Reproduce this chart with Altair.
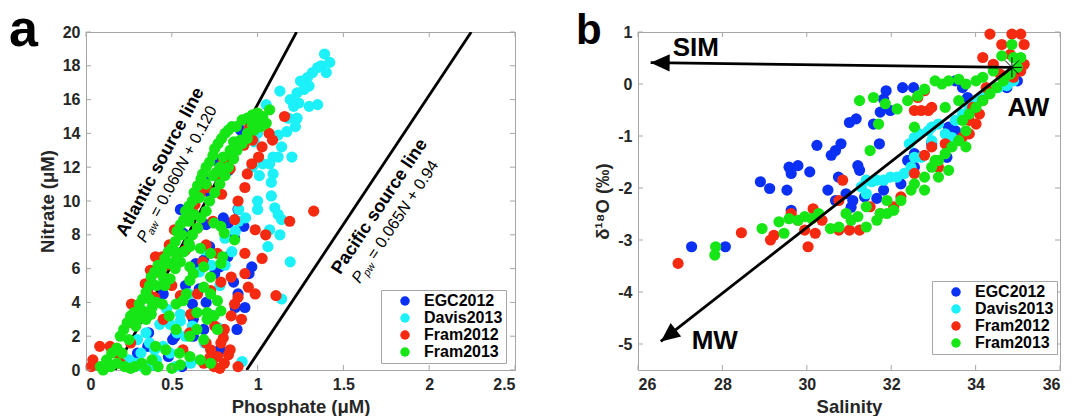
import altair as alt
import pandas as pd

FONT = "Liberation Sans"
SERIES = ["EGC2012", "Davis2013", "Fram2012", "Fram2013"]
COLORS = ["#0b30f5", "#1cf0f8", "#f52a10", "#16e616"]

# ---------------- panel a : (phosphate uM, nitrate uM) ----------------
a_egc = [(0.69,11.2),(0.72,10.5),(0.886,9.5),(0.83,8.7),(0.866,7.8),(0.826,6.7),(0.966,6.1),(0.95,5.7),
         (0.565,8.1),(0.60,7.4),(0.64,6.3),(0.686,6.5),(0.78,6.1),(0.75,5.7),(0.886,4.5),(0.87,3.7),
         (0.926,3.7),(0.62,3.9),(0.70,4.0),(0.625,3.0),(0.686,2.4),(0.505,1.8),(0.365,2.2),(0.36,1.4),
         (0.245,0.4),(0.28,0.2),(0.56,0.2),(0.625,2.0),(0.78,1.2),(0.88,2.4),(0.55,9.5),(0.66,4.8),
         (0.72,7.3),(0.48,0.8),(0.80,9.0),(0.58,5.0),(0.74,3.2),(0.30,1.0),(0.45,4.5),(0.83,11.8),
         (0.76,12.4),(0.90,14.2),(0.70,8.6),(0.52,2.0),(0.40,0.3),(0.86,5.2),(0.92,8.5)]
a_davis = [(1.39,18.7),(1.42,18.2),(1.37,18.0),(1.40,17.6),(1.35,17.9),(1.32,17.6),(1.29,17.3),(1.30,16.8),
           (1.27,16.6),(1.25,17.1),(1.23,16.4),(1.24,15.8),(1.21,15.6),(1.35,15.7),(1.30,15.6),(1.19,16.0),
           (1.13,16.5),(1.18,14.9),(1.23,14.9),(1.17,14.1),(1.22,14.4),(1.12,13.9),(1.14,13.2),(1.09,12.6),
           (1.20,12.6),(1.12,12.6),(1.07,12.2),(1.03,12.2),(1.01,11.5),(1.09,11.6),(1.08,11.1),(1.08,10.3),
           (1.00,10.0),(1.00,9.5),(1.10,9.6),(1.12,9.2),(1.14,8.9),(1.13,8.0),(1.07,8.3),(1.06,7.3),
           (1.19,6.4),(1.14,4.2),(0.91,0.5),(0.93,9.0),(0.89,8.8),(0.87,8.2),(0.81,7.8),(0.89,9.5),
           (0.85,7.0),(0.81,6.2),(0.69,7.1),(0.97,12.0),(1.05,15.7),(0.98,13.5),(1.00,14.0),
           (0.35,2.2),(0.37,1.6),(0.32,1.0),(0.43,2.7),(0.49,2.7),(0.55,2.9),(0.53,2.2),(0.58,2.0),
           (0.25,0.6),(0.29,0.4),(0.41,0.6),(0.45,1.4),(0.49,1.0),(0.61,0.4),(0.69,1.6),(0.77,2.5),
           (0.30,1.8),(0.38,0.3),(0.52,0.2),(0.62,2.6),(0.47,3.6),(0.55,3.3),(0.66,5.8),(0.73,6.2),
           (0.78,5.0),(0.60,4.5),(0.33,0.2),(0.40,1.2)]
a_fram12 = [(0.03,0.2),(0.04,0.6),(0.08,1.4),(0.14,1.4),(0.18,1.0),(0.12,0.2),(0.20,0.4),(0.245,2.8),
            (0.265,3.9),(0.30,3.2),(0.345,5.1),(0.375,5.9),(0.405,6.7),(0.445,6.7),(0.485,7.4),(0.515,8.3),
            (0.595,8.9),(0.635,9.8),(0.665,10.4),(0.625,9.3),(0.705,10.8),(0.765,11.6),(0.80,12.4),(0.86,13.0),
            (0.92,13.3),(1.067,14.0),(1.157,15.0),(1.087,13.6),(1.026,13.2),(1.006,12.6),(0.966,12.2),(0.94,11.6),
            (1.327,9.4),(1.187,8.8),(1.047,8.0),(0.986,8.3),(0.926,6.9),(1.026,6.6),(0.926,5.7),(0.946,4.9),
            (0.986,4.5),(1.107,4.4),(0.886,4.3),(0.866,3.9),(0.846,3.2),(0.906,3.0),(0.806,2.4),(0.786,1.6),
            (0.726,1.2),(0.766,0.8),(0.686,0.4),(0.806,0.4),(0.746,0.2),(0.886,0.2),(0.605,2.2),(0.565,1.2),
            (0.786,5.2),(0.726,4.7),(0.846,5.5),(0.766,6.9),(0.866,8.9),(0.926,10.8),(0.886,10.0),(0.83,0.9),
            (0.80,1.9),(0.75,2.6),(0.70,1.6),(0.72,0.7),(0.78,0.1),(0.84,1.2),(0.53,6.6),(0.50,5.0),
            (0.55,4.4),(0.40,4.3),(0.37,3.3),(0.45,3.0),(0.26,1.6),(0.65,8.4),(0.58,7.1),(0.47,6.2),
            (0.68,6.4),(0.70,7.4),(0.61,3.3),(0.65,4.5),(0.74,8.8),(0.79,10.4),(0.84,11.9),(0.97,13.6),
            (1.00,14.6),(0.95,14.3),(0.36,4.6),(0.42,5.8)]
a_fram13 = [(0.605,7.3),(0.666,7.2),(0.726,6.9),(0.786,6.3),(0.796,6.7),(0.866,7.7),(0.806,8.1),(0.786,8.5),
            (0.746,8.7),(0.626,5.7),(0.605,5.3),(0.686,4.9),(0.726,4.5),(0.766,4.1),(0.786,3.5),(0.746,3.2),
            (0.706,3.0),(0.646,3.4),(0.585,4.5),(0.565,4.1),(0.525,3.9),(0.445,3.9),(0.385,3.7),(0.485,3.2),
            (0.525,2.4),(0.605,2.0),(0.686,1.8),(0.766,2.4),(0.405,1.4),(0.465,1.2),(0.545,1.0),(0.605,0.8),
            (0.666,0.6),(0.726,0.4),(0.385,0.6),(0.325,0.4),(0.285,0.2),(0.225,0.2),(0.144,0.2),(0.084,0.2),
            (0.646,2.4),(0.706,3.4),(0.525,6.5),(0.605,6.1),(0.686,6.1),(0.726,5.5),
            (0.12,0.6),(0.15,1.0),(0.18,1.3),(0.20,2.0),(0.22,2.4),(0.24,2.8),(0.26,3.2),(0.28,3.4),
            (0.30,3.0),(0.31,3.9),(0.33,4.2),(0.35,4.6),(0.37,5.0),(0.38,5.5),(0.40,5.8),(0.42,6.2),
            (0.44,6.0),(0.46,6.6),(0.48,7.0),(0.50,7.2),(0.52,7.6),(0.53,8.2),(0.55,8.6),(0.57,8.9),
            (0.58,9.4),(0.60,9.7),(0.62,10.0),(0.63,10.5),(0.65,10.9),(0.67,11.3),(0.68,11.6),(0.70,12.0),
            (0.72,12.3),(0.74,12.7),(0.75,13.1),(0.77,13.4),(0.79,13.7),(0.81,14.0),(0.83,14.2),(0.85,14.4),
            (0.876,14.4),(0.91,14.8),(0.94,14.9),(0.97,15.1),(1.00,15.2),(1.03,15.0),(1.07,15.4),
            (0.70,11.0),(0.74,11.5),(0.78,12.0),(0.80,12.6),(0.84,13.0),(0.86,13.5),(0.90,13.6),(0.94,14.0),
            (0.98,14.2),(1.02,14.4),(1.05,14.6),(0.66,10.2),(0.63,9.2),(0.60,8.8),(0.56,8.0),(0.52,7.0),
            (0.49,6.3),(0.45,5.5),(0.41,5.0),(0.37,4.2),(0.33,3.5),(0.29,2.6),(0.25,1.8),(0.21,1.0),
            (0.18,0.4),(0.76,11.7),(0.10,0.0),(0.26,0.1),(0.35,0.0),(0.42,0.2),(0.50,0.1),(0.55,0.3),
            (0.35,3.0),(0.38,3.3),(0.41,4.0),(0.46,5.0),(0.49,5.4),(0.52,6.0),(0.55,6.4),(0.57,7.0),
            (0.60,7.5),(0.62,8.0),(0.65,8.4),(0.67,9.0),(0.70,9.4),(0.72,10.0),(0.75,10.5),(0.78,11.0),
            (0.81,11.5),(0.83,12.0),(0.86,12.5),(0.88,13.0),(0.91,13.4),(0.94,13.7),(0.97,14.5),(1.01,14.8)]

# ---------------- panel b : (salinity, d18O) ----------------
b_egc = [(27.27,-3.13),(28.07,-3.13),(28.90,-1.88),(29.12,-2.01),(29.53,-2.04),(29.58,-1.60),(29.63,-1.72),
         (29.79,-1.57),(30.07,-1.69),(30.24,-1.18),(30.50,-2.04),(30.58,-1.37),(30.68,-1.28),(30.81,-1.15),
         (30.75,-1.79),(31.01,-0.74),(31.17,-0.67),(31.21,-1.57),(31.25,-1.66),(31.58,-0.77),(31.72,-1.15),
         (31.74,-0.54),(31.82,-0.29),(31.88,-0.13),(31.98,-0.51),(32.27,-0.07),(32.53,-0.07),(29.63,-2.43),
         (30.68,-2.24),(30.93,-2.11),(31.09,-2.24),(31.37,-2.17),(31.66,-2.20),(31.82,-2.04),(32.23,-1.92),
         (32.55,-1.60),(32.55,-1.34),(32.96,-1.15),(33.32,-1.41),(33.36,-0.83),(33.52,-0.90),(33.52,0.06),
         (33.69,-0.07),(33.81,-0.26),(34.74,-0.07),(34.99,0.06),(31.05,-2.37),(32.39,-1.47)]
b_davis = [(31.29,-1.98),(31.41,-1.85),(31.54,-1.88),(31.66,-1.85),(31.82,-1.85),(31.98,-1.79),(32.14,-1.79),
           (32.31,-1.72),(32.47,-1.60),(32.55,-1.41),(32.43,-1.15),(32.55,-1.03),(32.67,-0.96),(32.88,-0.90),
           (32.96,-0.83),(33.12,-0.77),(33.28,-0.96),(33.44,-1.03),(33.52,-0.70),(33.69,-0.58),(33.85,-0.45),
           (34.01,-0.32),(34.17,-0.26),(34.34,-0.13),(34.54,-0.07),(34.74,-0.03),(34.90,0.06),(32.96,-1.09),
           (32.71,-1.41),(31.41,-2.11)]
b_fram12 = [(26.95,-3.45),(28.45,-2.86),(29.14,-3.00),(29.22,-2.91),(30.03,-3.13),(30.15,-2.40),(30.85,-1.85),
            (29.63,-2.49),(29.79,-2.62),(29.95,-2.81),(30.20,-2.87),(30.36,-2.62),(30.76,-2.81),(31.01,-2.81),
            (31.25,-2.81),(30.76,-2.24),(31.50,-2.36),(31.74,-2.49),(32.06,-2.36),(32.23,-2.17),(32.55,-1.72),
            (32.79,-1.37),(32.96,-1.21),(33.12,-1.60),(33.28,-1.15),(32.55,-0.51),(32.71,-0.51),(32.88,-0.51),
            (32.96,-0.45),(32.63,-0.26),(32.79,-0.13),(33.85,-0.96),(33.85,-0.70),(34.01,-0.77),(33.93,-0.45),
            (34.09,-0.58),(34.17,-0.32),(34.34,0.96),(34.62,0.76),(34.86,0.96),(35.07,0.96),(35.15,0.76),
            (34.17,0.51),(34.42,0.38),(35.15,0.38),(35.07,0.25),(34.82,0.57),(33.69,-1.02),(33.36,-1.21),
            (34.25,-0.07),(34.58,0.19),(34.90,0.13)]
b_fram13 = [(27.84,-3.13),(27.82,-3.29),(28.94,-2.78),(29.34,-2.65),(29.46,-2.87),(29.58,-2.59),(29.79,-2.62),
            (29.95,-2.55),(30.12,-2.59),(30.28,-2.49),(30.56,-2.78),(30.76,-2.75),(30.93,-2.49),(31.05,-2.62),
            (31.21,-2.55),(31.41,-2.75),(31.41,-2.36),(31.66,-2.62),(31.74,-2.49),(31.90,-2.49),(32.06,-2.43),
            (31.90,-2.24),(32.23,-2.24),(32.47,-2.04),(32.55,-1.92),(32.79,-2.04),(32.79,-1.79),(32.96,-1.60),
            (33.12,-1.79),(33.12,-1.47),(33.28,-1.34),(33.44,-1.21),(33.60,-1.09),(33.77,-0.90),(33.69,-0.70),
            (33.85,-0.58),(34.01,-0.45),(34.17,-0.32),(34.34,-0.19),(34.50,-0.07),(34.66,0.06),(34.82,0.19),
            (34.99,0.32),(35.07,0.51),(34.90,0.51),(34.86,0.76),(34.62,0.54),(34.42,0.25),(34.17,0.13),
            (34.01,0.06),(33.77,0.00),(33.60,0.09),(33.36,0.06),(33.20,0.00),(33.04,0.06),(32.79,-0.10),
            (32.63,-0.23),(32.39,-0.32),(32.14,-0.48),(31.86,-0.38),(31.58,-0.26),(31.25,-0.32),(31.70,-0.77),
            (31.50,-1.28),(32.55,-0.83),(33.28,-0.45),(33.60,-0.32),(33.04,-1.47),(33.36,-1.66),(33.77,-1.21)]

# axis ticks
a_xticks = [0, 0.5, 1, 1.5, 2, 2.5]
a_yticks = [0, 2, 4, 6, 8, 10, 12, 14, 16, 18, 20]
b_xticks = [26, 28, 30, 32, 34, 36]
b_yticks = [-5, -4, -3, -2, -1, 0, 1]

# source lines (panel a) and mixing arrows (panel b)
atl_p, atl_n = [0.17, 1.227], [0, 20]
pac_p, pac_n = [0.936, 2.245], [0, 20]
sim_s, sim_o = [34.86, 26.30], [0.32, 0.41]
mw_s, mw_o = [34.86, 26.54], [0.32, -4.95]
head_s, head_o, head_ang = [26.525, 26.72], [0.408, -4.84], [270.7, 232.0]
aw_s, aw_o = [34.86], [0.32]

WA, HA = 429, 338
WB, HB = 422, 338
BOX = "#a6a6a6"
INK = "#262626"
PT = 125


def frame(pairs_list, xn, yn):
    rows = []
    for s, pairs in zip(SERIES, pairs_list):
        for x, y in pairs:
            rows.append({xn: x, yn: y, "series": s})
    return pd.DataFrame(rows)


def tick_layers(xenc, yenc, xname, yname, xt, yt, W, H):
    dx = pd.DataFrame({xname: xt})
    dy = pd.DataFrame({yname: yt})
    r = dict(color=BOX, strokeWidth=1)
    return [
        alt.Chart(dx).mark_rule(**r).encode(x=xenc, y=alt.value(H), y2=alt.value(H - 5)),
        alt.Chart(dx).mark_rule(**r).encode(x=xenc, y=alt.value(0), y2=alt.value(5)),
        alt.Chart(dy).mark_rule(**r).encode(y=yenc, x=alt.value(0), x2=alt.value(5)),
        alt.Chart(dy).mark_rule(**r).encode(y=yenc, x=alt.value(W), x2=alt.value(W - 5)),
    ]


def legend(lx, ly):
    return alt.Legend(orient="none", legendX=lx, legendY=ly, title=None,
                      labelFont=FONT, labelFontSize=16, labelFontWeight="bold", labelColor="black",
                      symbolType="circle", symbolSize=90, symbolStrokeWidth=0,
                      strokeColor=BOX, fillColor="white", padding=3,
                      symbolOffset=13, labelOffset=11, rowPadding=1)


def txt(df, xenc, yenc, text, **kw):
    return alt.Chart(df).mark_text(text=text, font=FONT, color="black", **kw).encode(x=xenc, y=yenc)


# ---------------- panel a ----------------
xa = alt.X("p:Q", scale=alt.Scale(domain=[0, 2.5], nice=False, zero=False),
           axis=alt.Axis(values=a_xticks, title="Phosphate (μM)", labelExpr="datum.value + ''"))
ya = alt.Y("n:Q", scale=alt.Scale(domain=[0, 20], nice=False, zero=False),
           axis=alt.Axis(values=a_yticks, title="Nitrate (μM)", labelExpr="datum.value + ''"))

pts_a = alt.Chart(frame([a_egc, a_davis, a_fram12, a_fram13], "p", "n")).mark_point(
    filled=True, size=PT, opacity=1, strokeWidth=0).encode(
    x=xa, y=ya,
    color=alt.Color("series:N", scale=alt.Scale(domain=SERIES, range=COLORS), legend=legend(295, 258)))

lines_a = alt.Chart(pd.DataFrame({"p": atl_p + pac_p, "n": atl_n + pac_n,
                                  "line": ["atl"] * 2 + ["pac"] * 2})).mark_line(
    color="black", strokeWidth=2.8, clip=True).encode(x=xa, y=ya, detail="line:N")

ANG_A, ANG_P = 298.2, 303.6
one = lambda x, y: pd.DataFrame({"p": [x], "n": [y]})
ann_a = [
    txt(one(0.435, 12.3), xa, ya, "Atlantic source line", angle=ANG_A, fontSize=18, fontWeight="bold",
        align="center", baseline="middle"),
    txt(one(0.3205, 7.63), xa, ya, "P", angle=ANG_A, fontSize=16, fontStyle="italic", align="left", baseline="middle"),
    txt(one(0.3205, 7.63), xa, ya, "aw", angle=ANG_A, fontSize=10.5, fontStyle="italic", align="left",
        baseline="middle", dx=10.7, dy=5),
    txt(one(0.3205, 7.63), xa, ya, "= 0.060", angle=ANG_A, fontSize=16, align="left", baseline="middle", dx=28.5),
    txt(one(0.3205, 7.63), xa, ya, "N", angle=ANG_A, fontSize=16, fontStyle="italic", align="left",
        baseline="middle", dx=82.3),
    txt(one(0.3205, 7.63), xa, ya, "+ 0.120", angle=ANG_A, fontSize=16, align="left", baseline="middle", dx=98.3),
    txt(one(1.712, 9.66), xa, ya, "Pacific source line", angle=ANG_P, fontSize=18, fontWeight="bold",
        align="center", baseline="middle"),
    txt(one(1.571, 5.24), xa, ya, "P", angle=ANG_P, fontSize=16, fontStyle="italic", align="left", baseline="middle"),
    txt(one(1.571, 5.24), xa, ya, "pw", angle=ANG_P, fontSize=10.5, fontStyle="italic", align="left",
        baseline="middle", dx=10.7, dy=5),
    txt(one(1.571, 5.24), xa, ya, "= 0.065", angle=ANG_P, fontSize=16, align="left", baseline="middle", dx=28.5),
    txt(one(1.571, 5.24), xa, ya, "N", angle=ANG_P, fontSize=16, fontStyle="italic", align="left",
        baseline="middle", dx=82.3),
    txt(one(1.571, 5.24), xa, ya, "+ 0.94", angle=ANG_P, fontSize=16, align="left", baseline="middle", dx=98.3),
]
letter_a = alt.Chart(one(0, 0)).mark_text(text="a", font=FONT, fontSize=52, fontWeight="bold",
                                          color="black", align="left", baseline="alphabetic").encode(
    x=alt.value(-77), y=alt.value(14))

panel_a = alt.layer(lines_a, pts_a, *ann_a, *tick_layers(xa, ya, "p", "n", a_xticks, a_yticks, WA, HA),
                    letter_a).properties(width=WA, height=HA)

# ---------------- panel b ----------------
xb = alt.X("s:Q", scale=alt.Scale(domain=[26, 36], nice=False, zero=False),
           axis=alt.Axis(values=b_xticks, title="Salinity", labelExpr="datum.value + ''"))
yb = alt.Y("o:Q", scale=alt.Scale(domain=[-5.5, 1], nice=False, zero=False),
           axis=alt.Axis(values=b_yticks, title="δ¹⁸O (‰)", labelExpr="datum.value + ''"))

pts_b = alt.Chart(frame([b_egc, b_davis, b_fram12, b_fram13], "s", "o")).mark_point(
    filled=True, size=PT, opacity=1, strokeWidth=0).encode(
    x=xb, y=yb,
    color=alt.Color("series:N", scale=alt.Scale(domain=SERIES, range=COLORS), legend=legend(294, 249)))

arrows = alt.Chart(pd.DataFrame({"s": sim_s + mw_s, "o": sim_o + mw_o,
                                 "arr": ["sim"] * 2 + ["mw"] * 2})).mark_line(
    color="black", strokeWidth=2.8).encode(x=xb, y=yb, detail="arr:N")
heads = alt.Chart(pd.DataFrame({"s": head_s, "o": head_o, "ang": head_ang})).mark_point(
    shape="M0,-1L-0.9,1L0.9,1Z", filled=True, color="black", opacity=1, size=361, strokeWidth=0).encode(
    x=xb, y=yb, angle=alt.Angle("ang:Q", scale=None))
star = alt.Chart(pd.DataFrame({"s": aw_s, "o": aw_o})).mark_point(
    shape="M-1,0L1,0M0,-1L0,1M-0.7,-0.7L0.7,0.7M-0.7,0.7L0.7,-0.7", filled=False, color="black",
    opacity=1, size=400, strokeWidth=1).encode(x=xb, y=yb)

oneb = lambda x, y: pd.DataFrame({"s": [x], "o": [y]})
ann_b = [
    txt(oneb(27.37, 0.70), xb, yb, "SIM", fontSize=26, fontWeight="bold", align="center", baseline="middle"),
    txt(oneb(35.25, -0.46), xb, yb, "AW", fontSize=26, fontWeight="bold", align="center", baseline="middle"),
    txt(oneb(27.82, -4.95), xb, yb, "MW", fontSize=26, fontWeight="bold", align="center", baseline="middle"),
]
letter_b = alt.Chart(oneb(30, 0)).mark_text(text="b", font=FONT, fontSize=42, fontWeight="bold",
                                            color="black", align="left", baseline="alphabetic").encode(
    x=alt.value(-62), y=alt.value(12))

panel_b = alt.layer(pts_b, arrows, heads, star, *ann_b,
                    *tick_layers(xb, yb, "s", "o", b_xticks, b_yticks, WB, HB),
                    letter_b).properties(width=WB, height=HB)

chart = alt.hconcat(panel_a, panel_b, spacing=59).resolve_scale(color="independent").properties(
    padding={"left": 0, "top": -5, "right": 0, "bottom": 0}, background="white"
).configure_view(stroke=BOX, strokeWidth=1).configure_axis(
    grid=False, ticks=False, domain=False,
    labelFont=FONT, labelFontSize=16, labelFontWeight="bold", labelColor=INK, labelPadding=6,
    titleFont=FONT, titleFontSize=18.5, titleFontWeight="bold", titleColor=INK, titlePadding=5)

chart.save("out.html", embed_options={"renderer": "svg", "actions": False})
